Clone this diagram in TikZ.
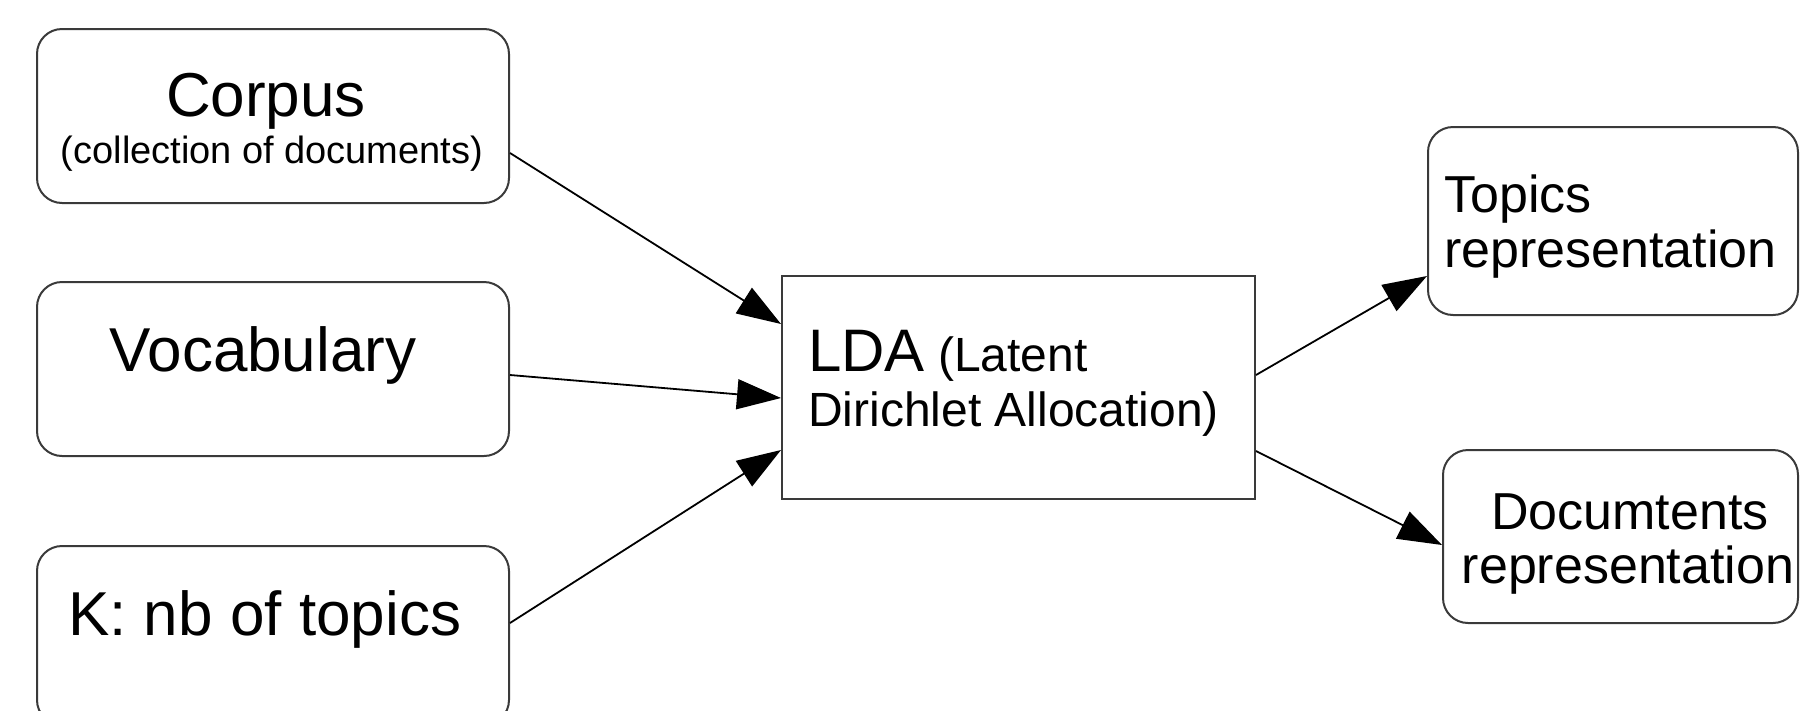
\documentclass[tikz,border=0pt]{standalone}
\usepackage{fontspec}
\setmainfont{Liberation Sans}
\usetikzlibrary{arrows.meta,calc}
\definecolor{boxgray}{HTML}{3A3A3A}
\begin{document}
\begin{tikzpicture}[x=1pt,y=-1pt,
  rbox/.style={draw=boxgray, line width=2pt, rounded corners=25pt, inner sep=0pt},
  sbox/.style={draw=boxgray, line width=2pt, inner sep=0pt},
  txt/.style={inner sep=0pt, anchor=base, text=black},
  txtl/.style={inner sep=0pt, anchor=base west, text=black},
  big/.style={font=\fontsize{62}{68}\selectfont},
  mid/.style={font=\fontsize{52}{57}\selectfont},
  lda/.style={font=\fontsize{48}{53}\selectfont},
  small/.style={font=\fontsize{38}{42}\selectfont},
  flow/.style={draw=black, line width=1.8pt, -{Triangle[length=44pt,width=30pt]}}
]
\useasboundingbox (0,0) rectangle (1800,710);

% boxes
\node[rbox, minimum width=472pt, minimum height=174pt] (corpus) at (273,116) {};
\node[rbox, minimum width=472pt, minimum height=174pt] (vocab) at (273,369) {};
\node[rbox, minimum width=472pt, minimum height=179pt] (ktop) at (273,635.5) {};
\node[sbox, minimum width=473pt, minimum height=223pt] (lda) at (1018.5,387.5) {};
\node[rbox, minimum width=370pt, minimum height=188pt] (topics) at (1613,221) {};
\node[rbox, minimum width=355pt, minimum height=173pt] (docs) at (1620.5,536.5) {};

% texts
\node[txt, big] (tcorpus) at (266,116) {Corpus};
\node[txt, small] (tcoll) at (272,163) {(collection of documents)};
\node[txt, big] (tvocab) at (263,371) {Vocabulary};
\node[txtl, big] (tk) at (68,635) {K: nb of topics};
\node[txtl] (tlda) at (808,371) {\fontsize{60}{66}\selectfont LDA\fontsize{48}{53}\selectfont\ (Latent};
\node[txtl, lda] (tdir) at (808,426) {Dirichlet Allocation)};
\node[txtl, mid] (ttop1) at (1444,212) {Topics};
\node[txtl, mid] (ttop2) at (1444,267.5) {representation};
\node[txt, mid] (tdoc1) at (1630,529) {Documtents};
\node[txt, mid] (tdoc2) at (1628,583) {representation};

% connectors
\draw[flow] ([yshift=-37pt]corpus.east) -- ([yshift=63.5pt]lda.west);
\draw[flow] ([yshift=-6pt]vocab.east) -- ([yshift=-10.5pt]lda.west);
\draw[flow] ([yshift=12.5pt]ktop.east) -- ([yshift=-62.5pt]lda.west);
\draw[flow] ([yshift=12.5pt]lda.east) -- ([yshift=-55pt]topics.west);
\draw[flow] ([yshift=-63.5pt]lda.east) -- ([yshift=-8.5pt]docs.west);
\end{tikzpicture}
\end{document}
